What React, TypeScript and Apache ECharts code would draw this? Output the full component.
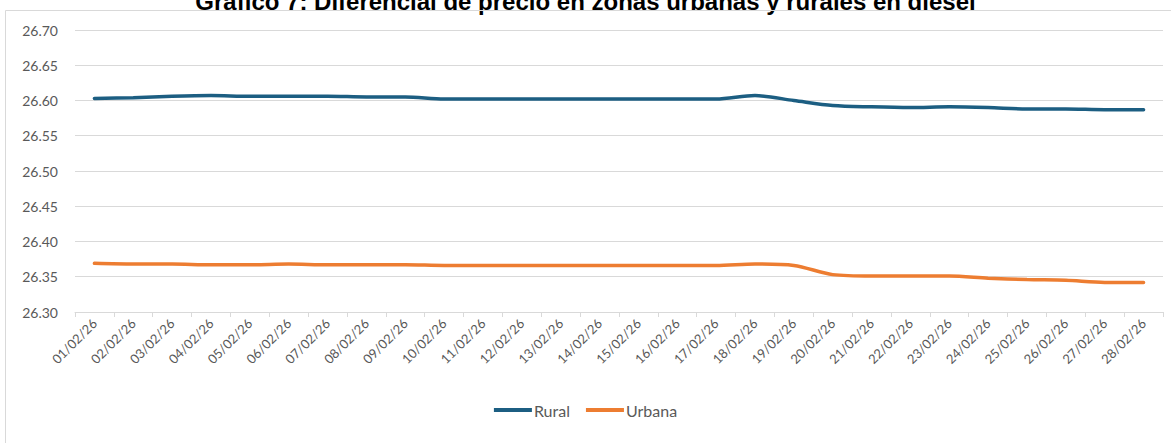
import React, { useEffect, useRef } from "react";
import * as echarts from "echarts";

const categories = [
  "01/02/26", "02/02/26", "03/02/26", "04/02/26", "05/02/26", "06/02/26", "07/02/26",
  "08/02/26", "09/02/26", "10/02/26", "11/02/26", "12/02/26", "13/02/26", "14/02/26",
  "15/02/26", "16/02/26", "17/02/26", "18/02/26", "19/02/26", "20/02/26", "21/02/26",
  "22/02/26", "23/02/26", "24/02/26", "25/02/26", "26/02/26", "27/02/26", "28/02/26",
];

const rural = [
  26.603, 26.604, 26.606, 26.607, 26.606, 26.606, 26.606,
  26.605, 26.605, 26.602, 26.602, 26.602, 26.602, 26.602,
  26.602, 26.602, 26.602, 26.607, 26.600, 26.593, 26.591,
  26.590, 26.591, 26.590, 26.588, 26.588, 26.587, 26.587,
];

const urbana = [
  26.369, 26.368, 26.368, 26.367, 26.367, 26.368, 26.367,
  26.367, 26.367, 26.366, 26.366, 26.366, 26.366, 26.366,
  26.366, 26.366, 26.366, 26.368, 26.366, 26.353, 26.351,
  26.351, 26.351, 26.348, 26.346, 26.345, 26.342, 26.342,
];

const seriesNames = ["Rural", "Urbana"];
const colors = ["#1C5E82", "#ED7D31"];
const yMin = 26.3;
const yMax = 26.7;
const yStep = 0.05;
const title = "Gráfico 7: Diferencial de precio en zonas urbanas y rurales en diésel";

export default function App() {
  const ref = useRef<HTMLDivElement>(null);
  useEffect(() => {
    document.body.style.margin = "0";
    const chart = echarts.init(ref.current!, null, { renderer: "svg" });
    const font = "Lato, 'Noto Sans', sans-serif";
    chart.setOption({
      animation: false,
      backgroundColor: "#ffffff",
      title: {
        text: title,
        left: "center",
        top: -16,
        textStyle: {
          fontFamily: "'Liberation Sans', Arial, sans-serif",
          fontWeight: "bold",
          fontSize: 24,
          color: "#000000",
        },
      },
      graphic: [
        {
          type: "rect",
          shape: { x: 5.5, y: 10.5, width: 1300, height: 600 },
          style: { fill: "none", stroke: "#d9d9d9", lineWidth: 1 },
          silent: true,
          z: 10,
        },
      ],
      grid: { left: 75, right: 8, top: 30, bottom: 131, containLabel: false },
      legend: {
        data: seriesNames,
        bottom: 20,
        left: "center",
        icon: "rect",
        itemWidth: 38,
        itemHeight: 4,
        itemGap: 16,
        textStyle: { fontFamily: font, fontSize: 16, color: "#595959", padding: [0, 0, 0, -3] },
      },
      xAxis: {
        type: "category",
        data: categories,
        boundaryGap: true,
        axisLine: { lineStyle: { color: "#d9d9d9", width: 1 } },
        axisTick: { show: true, length: 5, lineStyle: { color: "#d9d9d9" } },
        axisLabel: {
          interval: 0,
          rotate: 45,
          fontFamily: font,
          fontSize: 13,
          color: "#595959",
          margin: 9,
        },
      },
      yAxis: {
        type: "value",
        min: yMin,
        max: yMax,
        interval: yStep,
        axisLine: { show: false },
        axisTick: { show: false },
        splitLine: { lineStyle: { color: "#d9d9d9", width: 1 } },
        axisLabel: {
          fontFamily: font,
          fontSize: 14,
          color: "#595959",
          margin: 17,
          formatter: (v: number) => v.toFixed(2),
        },
      },
      series: [
        {
          name: seriesNames[0],
          type: "line",
          data: rural,
          smooth: 0.3,
          symbol: "none",
          lineStyle: { color: colors[0], width: 3.5, cap: "round" },
          itemStyle: { color: colors[0] },
        },
        {
          name: seriesNames[1],
          type: "line",
          data: urbana,
          smooth: 0.3,
          symbol: "none",
          lineStyle: { color: colors[1], width: 3.5, cap: "round" },
          itemStyle: { color: colors[1] },
        },
      ],
    });
    return () => chart.dispose();
  }, []);
  return <div ref={ref} style={{ width: 1171, height: 443 }} />;
}
